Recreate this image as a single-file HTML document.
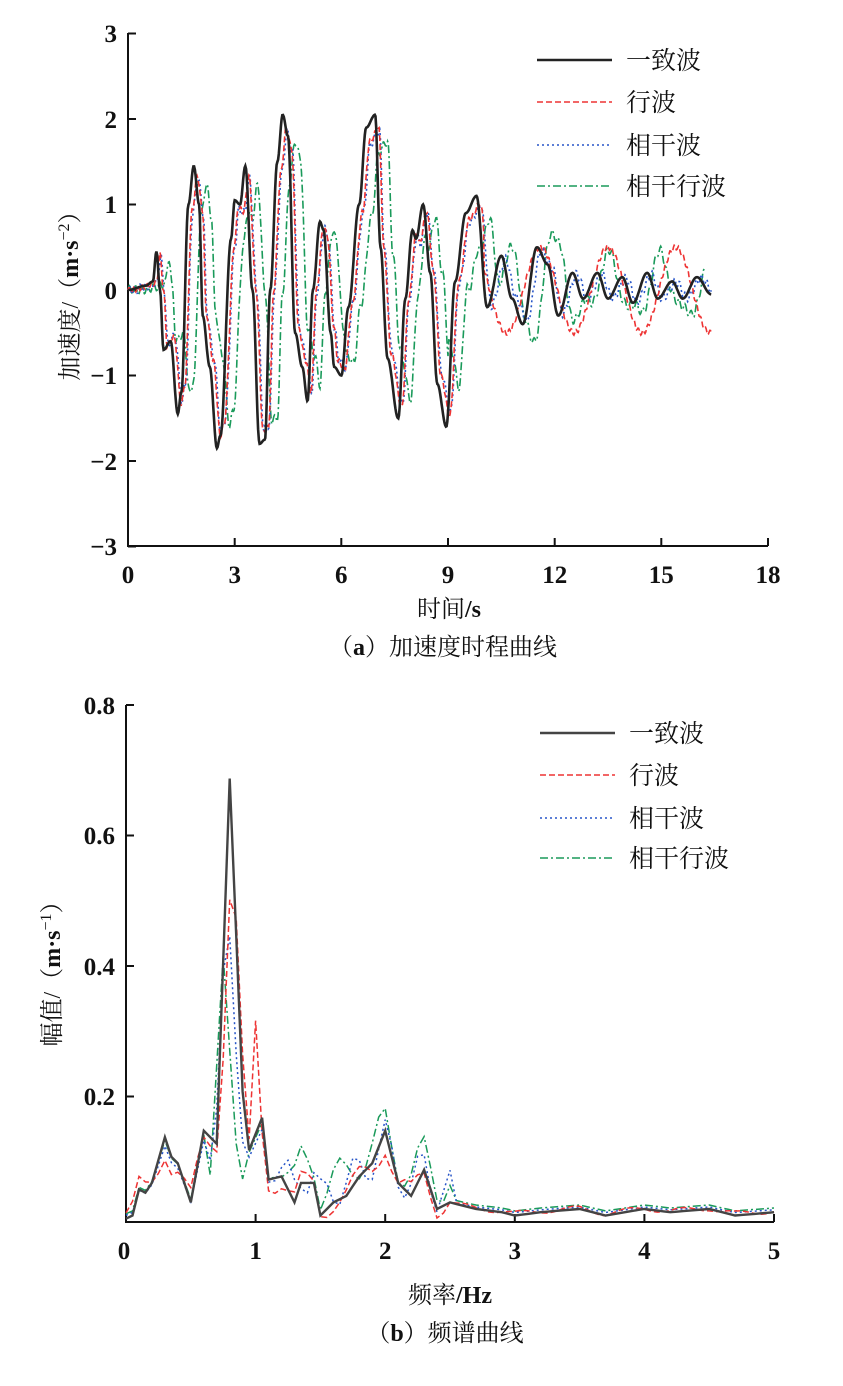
<!DOCTYPE html>
<html><head><meta charset="utf-8"><style>
body{margin:0;background:#fff;}
svg text{font-family:"Liberation Serif","Noto Serif CJK SC",serif;fill:#111;}
</style></head><body>
<svg id="s" width="843" height="1381" xmlns="http://www.w3.org/2000/svg">
<g stroke="#111" stroke-width="2" fill="none">
<path d="M128 33V546H768"/>
<path d="M128 33.5h8M128 119h8M128 204.5h8M128 290h8M128 375.5h8M128 461h8M128 546.5h8"/>
<path d="M128 546v-8M234.7 546v-8M341.3 546v-8M448 546v-8M554.7 546v-8M661.3 546v-8M768 546v-8"/>
<path d="M126 705V1222H774"/>
<path d="M126 705h8M126 835.5h8M126 966h8M126 1096.5h8"/>
<path d="M126 1222v-8M255.6 1222v-8M385.2 1222v-8M514.8 1222v-8M644.4 1222v-8M774 1222v-8"/>
</g>
<g font-size="25" font-weight="bold" text-anchor="end">
<text x="117" y="42">3</text><text x="117" y="128">2</text><text x="117" y="213">1</text><text x="117" y="299">0</text><text x="117" y="384">−1</text><text x="117" y="470">−2</text><text x="117" y="555">−3</text>
<text x="115" y="714">0.8</text><text x="115" y="844">0.6</text><text x="115" y="975">0.4</text><text x="115" y="1105">0.2</text>
</g>
<g font-size="25" font-weight="bold" text-anchor="middle">
<text x="128" y="583">0</text><text x="234.7" y="583">3</text><text x="341.3" y="583">6</text><text x="448" y="583">9</text><text x="554.7" y="583">12</text><text x="661.3" y="583">15</text><text x="768" y="583">18</text>
<text x="124" y="1259">0</text><text x="255.6" y="1259">1</text><text x="385.2" y="1259">2</text><text x="514.8" y="1259">3</text><text x="644.4" y="1259">4</text><text x="774" y="1259">5</text>
</g>
<g font-size="24" text-anchor="middle">
<text x="449" y="617"><tspan>时间</tspan><tspan font-weight="bold">/s</tspan></text>
<text x="443" y="655">（<tspan font-weight="bold">a</tspan>）加速度时程曲线</text>
<text x="450" y="1303"><tspan>频率</tspan><tspan font-weight="bold">/Hz</tspan></text>
<text x="445" y="1341">（<tspan font-weight="bold">b</tspan>）频谱曲线</text>
</g>
<text transform="translate(78 290) rotate(-90)" text-anchor="middle" font-size="24">加速度/（<tspan font-weight="bold">m·s</tspan><tspan dy="-9" font-size="16">−2</tspan><tspan dy="9">）</tspan></text>
<text transform="translate(60 968) rotate(-90)" text-anchor="middle" font-size="24">幅值/（<tspan font-weight="bold">m·s</tspan><tspan dy="-9" font-size="16">−1</tspan><tspan dy="9">）</tspan></text>
<g fill="none" stroke-width="1.6">
<path d="M537 60h75" stroke="#222" stroke-width="2.6"/>
<path d="M537 102h75" stroke="#e33" stroke-dasharray="6 3"/>
<path d="M537 145h75" stroke="#2755c8" stroke-dasharray="2 3"/>
<path d="M537 186h75" stroke="#1a9a5a" stroke-dasharray="8 3 2 3"/>
<path d="M540 733h75" stroke="#444" stroke-width="2.4"/>
<path d="M540 775h75" stroke="#e33" stroke-dasharray="6 3"/>
<path d="M540 818h75" stroke="#2755c8" stroke-dasharray="2 3"/>
<path d="M540 858h75" stroke="#1a9a5a" stroke-dasharray="8 3 2 3"/>
</g>
<g font-size="25">
<text x="626" y="69">一致波</text><text x="626" y="111">行波</text><text x="626" y="154">相干波</text><text x="626" y="195">相干行波</text>
<text x="629" y="742">一致波</text><text x="629" y="784">行波</text><text x="629" y="827">相干波</text><text x="629" y="867">相干行波</text>
</g>
<g id="g1" fill="none"></g>
<g id="g2" fill="none"></g>
</svg>
<script>
var K=[[0,0],[.5,.05],[.7,.1],[.8,.45],[.9,0],[1,-.7],[1.2,-.6],[1.4,-1.45],[1.5,-1.2],[1.7,1],[1.85,1.45],[2,1],[2.1,-.3],[2.3,-.9],[2.5,-1.85],[2.6,-1.7],[2.9,.6],[3,1.05],[3.15,1],[3.3,1.45],[3.5,0],[3.7,-1.8],[3.85,-1.75],[4,0],[4.2,1.5],[4.35,2.05],[4.5,1.8],[4.7,-.5],[4.9,-.9],[5.05,-1.3],[5.2,0],[5.4,.8],[5.5,.7],[5.7,-.5],[5.8,-.9],[6,-1],[6.2,-.2],[6.5,1],[6.7,1.9],[6.95,2.05],[7.1,.5],[7.3,-.8],[7.6,-1.5],[7.8,-.1],[8,.7],[8.1,.6],[8.3,1],[8.5,.2],[8.7,-1.1],[8.95,-1.6],[9.2,.1],[9.5,.9],[9.8,1.1],[10.1,-.2],[10.5,.4],[10.8,-.1],[11.1,-.4],[11.5,.5],[11.8,.3],[12.1,-.3],[12.5,.2],[12.8,-.1],[13.2,.2],[13.5,-.1],[13.9,.15],[14.2,-.15],[14.6,.2],[14.9,-.1],[15.3,.1],[15.6,-.1],[16,.15],[16.4,-.05]];
function interp(k,t){if(t<=k[0][0])return k[0][1];for(var i=1;i<k.length;i++){if(t<=k[i][0]){var a=k[i-1],b=k[i],u=(t-a[0])/(b[0]-a[0]);u=(1-Math.cos(u*Math.PI))/2;return a[1]+(b[1]-a[1])*u;}}return k[k.length-1][1];}
function path(f,x0,x1,dx,X,Y){var d="";for(var t=x0;t<=x1+1e-9;t+=dx){d+=(d?"L":"M")+X(t).toFixed(1)+" "+Y(f(t)).toFixed(1);}return d;}
var X1=function(t){return 128+t*35.56},Y1=function(v){return 290-v*85.5};
var g1=document.getElementById("g1");
function add(g,d,c,w,da){var p=document.createElementNS("http://www.w3.org/2000/svg","path");p.setAttribute("d",d);p.setAttribute("stroke",c);p.setAttribute("stroke-width",w);if(da)p.setAttribute("stroke-dasharray",da);g.appendChild(p);}
add(g1,path(function(t){return 0.85*interp(K,t-0.35)+(t>9?0.3*Math.sin(t*4.3):0)+0.05*Math.sin(t*37);},0,16.2,0.02,X1,Y1),"#1a9a5a",1.6,"8 3 2 3");
add(g1,path(function(t){return 0.9*interp(K,t-0.12)+0.05*Math.sin(t*41);},0,16.4,0.02,X1,Y1),"#2755c8",1.6,"2 3");
add(g1,path(function(t){var v=interp(K,t-0.1)*0.92;if(t>10)v=0.5*Math.sin(t*3.3+1);return v+0.03*Math.sin(t*50);},0,16.4,0.02,X1,Y1),"#e33",1.6,"6 3");
add(g1,path(function(t){return interp(K,t);},0,16.4,0.02,X1,Y1),"#222",2.6);
var S=[[0,.005],[.05,.01],[.1,.05],[.15,.045],[.2,.06],[.3,.13],[.35,.1],[.4,.09],[.5,.03],[.6,.14],[.7,.12],[.8,.68],[.9,.2],[.95,.11],[1.05,.16],[1.1,.065],[1.2,.07],[1.3,.03],[1.35,.06],[1.45,.06],[1.5,.01],[1.6,.03],[1.7,.04],[1.8,.07],[1.9,.09],[2,.14],[2.1,.06],[2.2,.04],[2.3,.08],[2.4,.02],[2.5,.03],[2.7,.02],[2.9,.015],[3,.01],[3.2,.015],[3.5,.02],[3.7,.01],[4,.02],[4.2,.015],[4.5,.02],[4.7,.01],[5,.015]];
var X2=function(f){return 126+f*129.6},Y2=function(v){return 1222-v*652};
var g2=document.getElementById("g2");
function lin(k,t){for(var i=1;i<k.length;i++){if(t<=k[i][0]){var a=k[i-1],b=k[i],u=(t-a[0])/(b[0]-a[0]);return a[1]+(b[1]-a[1])*u;}}return k[k.length-1][1];}
function sp(k,dx,mod){var d="";for(var f=0;f<=5.0001;f+=0.05){var v=mod(f,lin(k,f));d+=(d?"L":"M")+X2(f).toFixed(1)+" "+Y2(Math.max(0.003,v)).toFixed(1);}return d;}
add(g2,sp(S,0.05,function(f,v){if(f>0.6&&f<0.95)return lin(S,f+0.05)*0.6;if(f>1.2&&f<2.5)return v*0.8+0.04+0.03*Math.sin(f*20);return v*0.9+0.008;}),"#1a9a5a",1.5,"8 3 2 3");
add(g2,sp(S,0.05,function(f,v){if(f>0.6&&f<0.95)return lin(S,f+0.02)*0.75;if(f>1.2&&f<2.5)return v*0.7+0.03+0.03*Math.cos(f*25);return v*0.85+0.006;}),"#2755c8",1.5,"2 3");
add(g2,sp(S,0.05,function(f,v){if(f>0.6&&f<1.05)return lin(S,f-0.02)*0.87+(Math.abs(f-1)<0.03?0.2:0);if(f>2.5)return v*0.8+0.004*Math.sin(f*15)+0.005;return v*0.8+0.02*Math.sin(f*15)+0.01;}),"#e33",1.5,"6 3");
add(g2,sp(S,0.05,function(f,v){return v;}),"#444",2.4);
</script>
</body></html>
